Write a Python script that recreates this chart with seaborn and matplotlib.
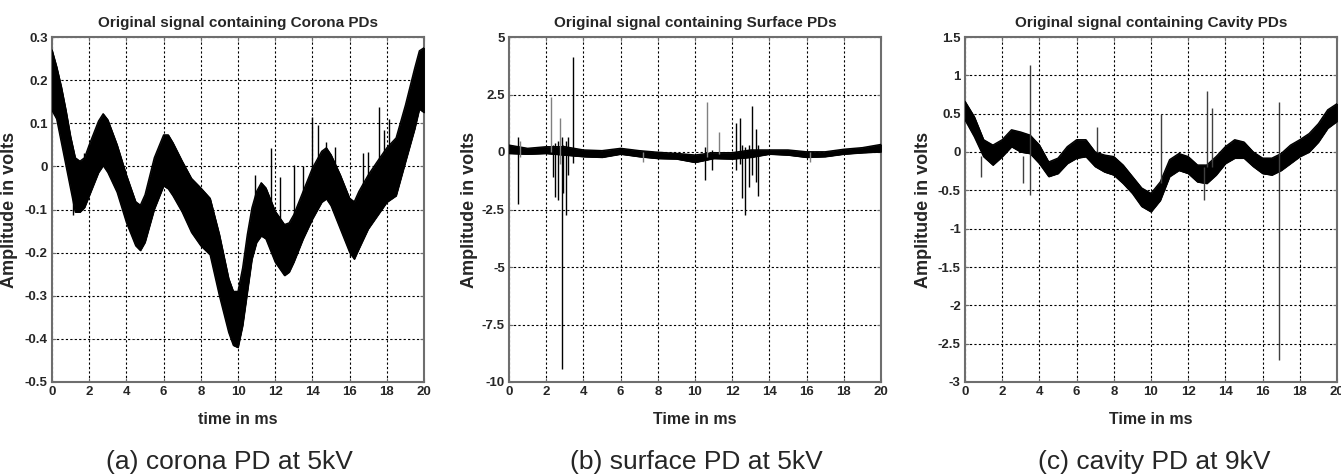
import numpy as np
import pandas as pd
import matplotlib
matplotlib.use("Agg")
import matplotlib.pyplot as plt
import seaborn as sns

# ---------------- data ----------------
# Panel (a): corona PD - envelope of the dense oscillating signal
t_a = [0, 0.25, 0.5, 0.75, 1.0, 1.25, 1.5, 1.75, 2.0, 2.5, 2.75, 3.0, 3.5, 4.0, 4.5,
       4.75, 5.0, 5.5, 6.0, 6.25, 6.5, 7.0, 7.5, 8.0, 8.5, 9.0, 9.5, 9.75, 10.0,
       10.25, 10.5, 10.75, 11.0, 11.25, 11.5, 12.0, 12.5, 12.75, 13.0, 13.5, 14.0,
       14.5, 14.75, 15.0, 15.5, 16.0, 16.25, 16.5, 17.0, 17.5, 18.0, 18.5, 19.0,
       19.5, 19.75, 20.0]
upper_a = [0.27, 0.231, 0.185, 0.13, 0.069, 0.02, 0.012, 0.02, 0.05, 0.105, 0.122,
           0.108, 0.05, -0.02, -0.082, -0.09, -0.066, 0.02, 0.073, 0.073, 0.055,
           0.012, -0.028, -0.05, -0.074, -0.158, -0.26, -0.29, -0.29, -0.235,
           -0.158, -0.096, -0.058, -0.038, -0.05, -0.104, -0.135, -0.131, -0.112,
           -0.058, -0.004, 0.035, 0.043, 0.027, -0.02, -0.074, -0.082, -0.058,
           -0.02, 0.012, 0.043, 0.066, 0.142, 0.228, 0.268, 0.275]
lower_a = [0.13, 0.11, 0.056, 0.002, -0.052, -0.106, -0.106, -0.095, -0.068, -0.014,
           0.002, -0.014, -0.06, -0.13, -0.184, -0.195, -0.176, -0.099, -0.045,
           -0.052, -0.068, -0.106, -0.153, -0.184, -0.205, -0.3, -0.385, -0.415,
           -0.42, -0.369, -0.292, -0.215, -0.176, -0.161, -0.168, -0.222, -0.253,
           -0.245, -0.222, -0.168, -0.122, -0.083, -0.075, -0.091, -0.145, -0.199,
           -0.215, -0.191, -0.145, -0.114, -0.083, -0.068, 0.01, 0.087, 0.133, 0.125]
spike_t_a = [1.15, 1.7, 10.9, 11.77, 12.26, 13.03, 13.51, 14.0, 14.32, 14.71, 15.2,
             16.0, 16.74, 17.0, 17.58, 17.87, 18.1, 18.6]
spike_hi_a = [-0.05, 0.03, -0.02, 0.042, -0.024, 0.003, 0.0, 0.114, 0.096, 0.057,
              0.046, -0.1, 0.03, 0.034, 0.138, 0.084, 0.109, 0.073]
spike_lo_a = [-0.113, -0.05, -0.1, -0.1, -0.15, -0.12, -0.1, -0.05, -0.03, -0.02,
              -0.03, -0.21, -0.1, -0.06, -0.05, -0.03, -0.01, 0.0]

# Panel (b): surface PD
t_b = [0, 1, 2, 3, 4, 5, 6, 7, 8, 9, 10, 11, 12, 13, 14, 15, 16, 17, 18, 19, 20]
upper_b = [0.30, 0.16, 0.23, 0.23, 0.09, 0.06, 0.16, 0.06, -0.01, -0.06, -0.13,
           -0.03, -0.03, 0.09, 0.09, 0.09, 0.01, 0.01, 0.12, 0.19, 0.33]
lower_b = [-0.06, -0.09, -0.06, -0.13, -0.20, -0.23, -0.09, -0.20, -0.28, -0.30,
           -0.45, -0.28, -0.30, -0.23, -0.09, -0.13, -0.23, -0.20, -0.09, -0.03, 0.01]
spike_t_b = [0.5, 2.38, 2.47, 2.65, 2.83, 2.92, 3.05, 3.19, 3.42, 10.54, 10.93,
             12.2, 12.42, 12.54, 12.69, 12.92, 13.08, 13.26, 13.37]
spike_hi_b = [0.67, 0.3, 0.4, 0.5, 0.67, 0.3, 0.5, 0.67, 4.15, 0.2, 0.1,
              1.24, 1.5, 0.3, 0.2, 0.3, 2.0, 0.99, 0.3]
spike_lo_b = [-2.25, -1.07, -1.94, -2.1, -9.45, -1.8, -2.75, -1.0, -0.48, -1.2, -0.78,
              -0.8, -0.5, -2.0, -2.75, -1.5, -1.0, -1.3, -1.9]
grey_t_b = [0.6, 2.24, 2.74, 7.19, 10.63, 11.31, 16.2]
grey_hi_b = [0.5, 2.4, 1.46, 0.0, 2.19, 0.88, 0.0]
grey_lo_b = [-0.2, 0.0, -0.5, -0.42, -0.2, -0.1, -0.45]

# Panel (c): cavity PD
t_c = [0, 0.5, 1, 1.5, 2, 2.5, 3, 3.5, 4, 4.5, 5, 5.5, 6, 6.5, 7, 7.5, 8, 8.5, 9, 9.5,
       10, 10.5, 11, 11.5, 12, 12.5, 13, 13.5, 14, 14.5, 15, 15.5, 16, 16.5, 17, 17.5,
       18, 18.5, 19, 19.5, 20]
upper_c = [0.66, 0.46, 0.16, 0.09, 0.16, 0.29, 0.26, 0.22, 0.09, -0.13, -0.08, 0.07,
           0.16, 0.16, 0.0, -0.04, -0.06, -0.17, -0.32, -0.47, -0.54, -0.39, -0.10,
           -0.02, -0.06, -0.17, -0.17, -0.06, 0.07, 0.16, 0.13, 0.0, -0.08, -0.08,
           -0.02, 0.09, 0.16, 0.24, 0.37, 0.55, 0.63]
lower_c = [0.42, 0.20, -0.06, -0.17, -0.06, 0.07, 0.0, -0.02, -0.15, -0.32, -0.28,
           -0.15, -0.08, -0.06, -0.19, -0.26, -0.30, -0.41, -0.54, -0.71, -0.78,
           -0.63, -0.32, -0.24, -0.28, -0.39, -0.41, -0.30, -0.15, -0.08, -0.08,
           -0.19, -0.28, -0.30, -0.24, -0.15, -0.06, 0.0, 0.13, 0.31, 0.40]
spike_t_c = [0.84, 3.14, 3.49, 7.08, 10.56, 12.85, 13.03, 13.26, 16.88]
spike_hi_c = [-0.05, -0.05, 1.135, 0.33, 0.5, -0.2, 0.8, 0.57, 0.65]
spike_lo_c = [-0.32, -0.41, -0.56, 0.0, -0.4, -0.62, -0.2, -0.2, -2.71]

x_ticks = [0, 2, 4, 6, 8, 10, 12, 14, 16, 18, 20]
y_ticks_a = [0.3, 0.2, 0.1, 0, -0.1, -0.2, -0.3, -0.4, -0.5]
y_labels_a = ["0.3", "0.2", "0.1", "0", "-0.1", "-0.2", "-0.3", "-0.4", "-0.5"]
y_ticks_b = [5, 2.5, 0, -2.5, -5, -7.5, -10]
y_labels_b = ["5", "2.5", "0", "-2.5", "-5", "-7.5", "-10"]
y_ticks_c = [1.5, 1, 0.5, 0, -0.5, -1, -1.5, -2, -2.5, -3]
y_labels_c = ["1.5", "1", "0.5", "0", "-0.5", "-1", "-1.5", "-2", "-2.5", "-3"]

titles = ["Original signal containing Corona PDs",
          "Original signal containing Surface PDs",
          "Original signal containing Cavity PDs"]
xlabels = ["time in ms", "Time in ms", "Time in ms"]
ylabel = "Amplitude in volts"
captions = ["(a) corona PD at 5kV", "(b) surface PD at 5kV", "(c) cavity PD at 9kV"]

# ---------------- styling ----------------
sns.set_theme(style="white")
plt.rcParams["axes.unicode_minus"] = False
plt.rcParams["font.family"] = ["Liberation Sans", "DejaVu Sans"]
NARROW = ["Liberation Sans Narrow", "Liberation Sans", "DejaVu Sans"]

fig = plt.figure(figsize=(13.41, 4.75), dpi=100)
W, H = 1341, 475
lefts = [52, 509, 965]
ax_w, top, bottom = 372, 37, 382
axes = [fig.add_axes([l / W, (H - bottom) / H, ax_w / W, (bottom - top) / H]) for l in lefts]

panels = [
    (t_a, upper_a, lower_a, [(spike_t_a, spike_hi_a, spike_lo_a, "black")], (-0.5, 0.3), y_ticks_a, y_labels_a),
    (t_b, upper_b, lower_b, [(grey_t_b, grey_hi_b, grey_lo_b, "#808080"),
                             (spike_t_b, spike_hi_b, spike_lo_b, "black")], (-10, 5), y_ticks_b, y_labels_b),
    (t_c, upper_c, lower_c, [(spike_t_c, spike_hi_c, spike_lo_c, "#404040")], (-3, 1.5), y_ticks_c, y_labels_c),
]
ylab_x = [-0.091, -0.083, -0.089]
cap_x = [229, 696, 1154]

for i, (ax, (t, up, lo, spikes, ylim, yt, yl)) in enumerate(zip(axes, panels)):
    df = pd.DataFrame({"t": t, "upper": up, "lower": lo})
    ax.fill_between(df["t"], df["lower"], df["upper"], color="black", lw=0.6,
                    edgecolor="black", zorder=3)
    sns.lineplot(data=df, x="t", y="upper", ax=ax, color="black", lw=1.0, zorder=3)
    sns.lineplot(data=df, x="t", y="lower", ax=ax, color="black", lw=1.0, zorder=3)
    for st, sh, sl, col in spikes:
        ax.vlines(st, sl, sh, color=col, lw=1.0, zorder=4)
    ax.set_xlim(0, 20)
    ax.set_ylim(*ylim)
    ax.set_xticks(x_ticks)
    ax.set_xticklabels([str(v) for v in x_ticks], fontfamily=NARROW,
                       fontweight="bold", fontsize=9.5)
    ax.set_yticks(yt)
    ax.set_yticklabels(yl, fontfamily=NARROW, fontweight="bold", fontsize=9.5)
    ax.grid(True, color="black", linestyle=(0, (2, 2)), lw=0.8)
    ax.set_axisbelow(True)
    for s in ax.spines.values():
        s.set_color("#6e6e6e")
        s.set_linewidth(1.5)
    ax.tick_params(axis="both", direction="in", length=3, width=0.8, color="#6e6e6e",
                   pad=3, top=True, right=True, bottom=True, left=True)
    ax.set_title(titles[i], fontfamily=NARROW, fontweight="bold", fontsize=11, pad=7)
    ax.set_xlabel(xlabels[i], fontweight="bold", fontsize=11.5)
    ax.set_ylabel(ylabel, fontweight="bold", fontsize=13)
    ax.xaxis.set_label_coords(0.5, -0.087)
    ax.yaxis.set_label_coords(ylab_x[i], 0.5)
    fig.text(cap_x[i] / W, 1 - 462 / H, captions[i], ha="center", va="center",
             fontsize=19)

fig.savefig("out.png", dpi=100, facecolor="white")
